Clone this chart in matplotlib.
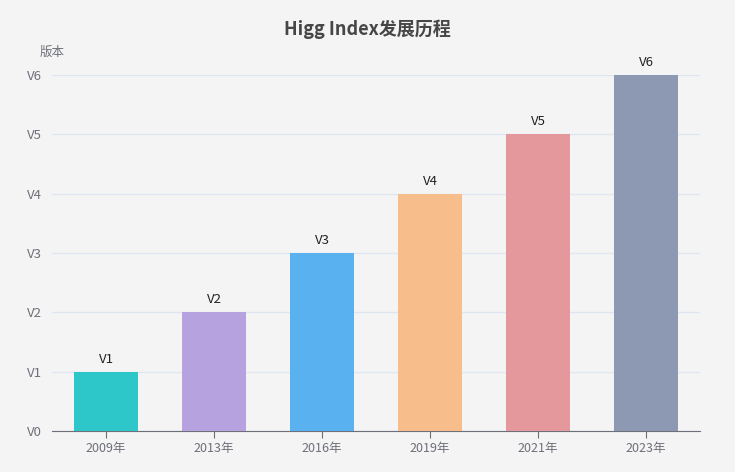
import matplotlib
matplotlib.use("Agg")
import matplotlib.pyplot as plt

plt.rcParams['font.family'] = ['Noto Sans CJK SC', 'DejaVu Sans']

categories = ['2009年', '2013年', '2016年', '2019年', '2021年', '2023年']
values = [1, 2, 3, 4, 5, 6]
tick_labels = ['V0', 'V1', 'V2', 'V3', 'V4', 'V5', 'V6']
colors = ['#2ec7c9', '#b6a2de', '#5ab1ef', '#f7bd8a', '#e4989b', '#8d98b3']

bg = '#f4f4f4'
fig = plt.figure(figsize=(7.35, 4.72), dpi=100, facecolor=bg)
ax = fig.add_axes([52/735, 1-431/472, 648/735, 356/472], facecolor=bg)

x = list(range(len(categories)))
bars = ax.bar(x, values, width=0.6, color=colors, zorder=3)
for xi, v in zip(x, values):
    ax.text(xi, v + 0.1, tick_labels[v], ha='center', va='bottom', fontsize=9.5, color='#222222')

ax.set_xlim(-0.5, len(categories) - 0.5)
ax.set_ylim(0, 6)
ax.set_yticks(range(7))
ax.set_yticklabels(tick_labels)
ax.set_xticks(x)
ax.set_xticklabels(categories)
ax.yaxis.grid(True, color='#e0e6f1', linewidth=1, zorder=0)
for s in ['top', 'right', 'left']:
    ax.spines[s].set_visible(False)
ax.spines['bottom'].set_color('#6e7079')
ax.tick_params(axis='y', length=0, pad=7, labelsize=9.5, labelcolor='#6e7079')
ax.tick_params(axis='x', length=5, color='#6e7079', pad=3, labelsize=9, labelcolor='#6e7079')

fig.text(0.5, 1-29/472, 'Higg Index发展历程', ha='center', va='center', fontsize=13, fontweight='bold', color='#464646')
fig.text(52/735, 1-52/472, '版本', ha='center', va='center', fontsize=9, color='#6e7079')

fig.savefig('out.png', dpi=100, facecolor=bg)
